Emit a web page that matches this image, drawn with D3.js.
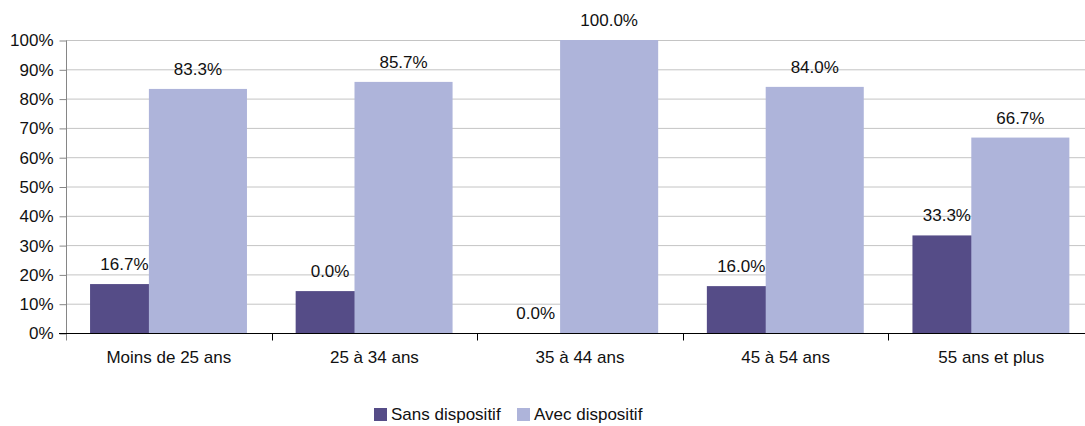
<!DOCTYPE html>
<html>
<head>
<meta charset="utf-8">
<script src="https://cdn.jsdelivr.net/npm/d3@7"></script>
<style>
  body { margin: 0; background: #fff; }
  svg { display: block; font-family: "Liberation Sans", Arial, sans-serif; }
  .grid line { stroke: #c4c4c4; stroke-width: 1; }
  .yaxis path, .yaxis line { stroke: #868686; }
  .xaxis path, .xaxis line { stroke: #000; }
  text { fill: #111; }
</style>
</head>
<body>
<script>
(function () {

  let categories = ['Moins de 25 ans', '25 à 34 ans', '35 à 44 ans', '45 à 54 ans', '55 ans et plus'];
  let series = ['Sans dispositif', 'Avec dispositif'];

  // bar heights (%)
  let sansValues = [16.7, 14.3, 0, 16.0, 33.3];
  let avecValues = [83.3, 85.7, 100, 84.0, 66.7];

  // labels as printed in the chart (second group really says 0.0%)
  let sansLabels = ['16.7%', '0.0%', '0.0%', '16.0%', '33.3%'];
  let avecLabels = ['83.3%', '85.7%', '100.0%', '84.0%', '66.7%'];

  let yTicks = [0, 10, 20, 30, 40, 50, 60, 70, 80, 90, 100];

  let colors = ['#554c87', '#aeb4da'];

  function go() {
    let width = 1085, height = 426;
    let plot = { left: 66, right: 1094, top: 40, bottom: 333 };

    let svg = d3.select('body').append('svg')
        .attr('width', width)
        .attr('height', height)
        .attr('viewBox', '0 0 ' + width + ' ' + height);

    let x = d3.scaleBand().domain(categories).range([plot.left, plot.right]);
    let y = d3.scaleLinear().domain([0, 100]).range([plot.bottom, plot.top]);

    let bw = x.bandwidth();
    let barW = bw * 0.477;
    let darkOff = bw * 0.117;
    let lightOff = darkOff + barW * 0.6;

    // gridlines
    svg.append('g').attr('class', 'grid')
      .selectAll('line').data(yTicks.slice(1)).enter()
      .append('line')
      .attr('x1', plot.left).attr('x2', plot.right)
      .attr('y1', d => y(d) + 0.5).attr('y2', d => y(d) + 0.5);

    // y axis
    let yAxis = d3.axisLeft(y).tickValues(yTicks).tickFormat(d => d + '%').tickSize(7).tickSizeOuter(0).tickPadding(6);
    let ya = svg.append('g').attr('class', 'yaxis')
      .attr('transform', 'translate(' + (plot.left + 0.5) + ',0.5)')
      .call(yAxis);
    ya.select('.domain').attr('d', 'M0,' + plot.top + 'V' + (plot.bottom + 7));
    ya.selectAll('text').attr('font-size', 17).attr('font-family', '"Liberation Sans", Arial, sans-serif').attr('fill', '#111');

    // bars
    let groups = svg.append('g').selectAll('g.cat').data(categories).enter()
      .append('g').attr('class', 'cat')
      .attr('transform', d => 'translate(' + x(d) + ',0)');

    groups.append('rect')
      .attr('x', darkOff).attr('width', barW)
      .attr('y', (d, i) => y(sansValues[i]))
      .attr('height', (d, i) => y(0) - y(sansValues[i]))
      .attr('fill', colors[0]);

    groups.append('rect')
      .attr('x', lightOff).attr('width', barW)
      .attr('y', (d, i) => y(avecValues[i]))
      .attr('height', (d, i) => y(0) - y(avecValues[i]))
      .attr('fill', colors[1]);

    groups.append('text')
      .attr('x', (darkOff + lightOff) / 2 + 5)
      .attr('y', (d, i) => y(sansValues[i]) - 14)
      .attr('text-anchor', 'middle').attr('font-size', 17)
      .text((d, i) => sansLabels[i]);

    groups.append('text')
      .attr('x', lightOff + barW / 2)
      .attr('y', (d, i) => y(avecValues[i]) - 14)
      .attr('text-anchor', 'middle').attr('font-size', 17)
      .text((d, i) => avecLabels[i]);

    // x axis
    let xAxis = d3.axisBottom(x).tickSize(0).tickPadding(17);
    let xa = svg.append('g').attr('class', 'xaxis')
      .attr('transform', 'translate(0,' + (plot.bottom + 0.5) + ')')
      .call(xAxis);
    xa.select('.domain').attr('d', 'M' + (plot.left - 7) + ',0H' + plot.right);
    xa.selectAll('text').attr('font-size', 17).attr('font-family', '"Liberation Sans", Arial, sans-serif').attr('fill', '#111');
    xa.selectAll('line.sep').data(categories.slice(1)).enter()
      .append('line').attr('class', 'sep')
      .attr('x1', d => Math.round(x(d)) + 0.5).attr('x2', d => Math.round(x(d)) + 0.5)
      .attr('y1', 0).attr('y2', 7);

    // legend
    let legend = svg.append('g').attr('class', 'legend');
    let legendX = [374, 517];
    series.forEach((s, i) => {
      legend.append('rect')
        .attr('x', legendX[i]).attr('y', 408)
        .attr('width', 13).attr('height', 13)
        .attr('fill', colors[i]);
      legend.append('text')
        .attr('x', legendX[i] + 17).attr('y', 420)
        .attr('font-size', 17)
        .text(s);
    });
  }

  document.addEventListener('DOMContentLoaded', go);
})();
</script>
</body>
</html>
